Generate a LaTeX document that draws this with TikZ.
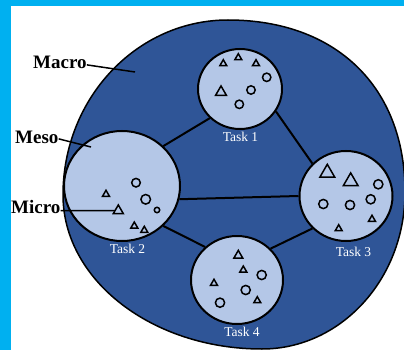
\documentclass[tikz,border=0pt]{standalone}
\usepackage{fontspec}
\setmainfont{Liberation Serif}
\usetikzlibrary{shapes.geometric}
\definecolor{cSky}{HTML}{00B0F0}
\definecolor{cDeep}{HTML}{2F5597}
\definecolor{cPale}{HTML}{B4C7E7}
\tikzset{
  task/.style={ellipse,draw=black,line width=2pt,fill=cPale,inner sep=0pt},
  tasklbl/.style={anchor=base,text=white,inner sep=0pt,
                  font=\fontsize{13.5}{15}\selectfont},
  levellbl/.style={anchor=base west,inner sep=0pt,
                  font=\fontsize{19}{22}\selectfont\bfseries},
  link/.style={line width=2pt},
  leader/.style={line width=1.5pt},
  tri/.style={regular polygon,regular polygon sides=3,draw=black,
              line width=1.5pt,inner sep=0pt,outer sep=0pt},
  blob/.style={circle,draw=black,line width=1.5pt,inner sep=0pt},
}

\begin{document}
\begin{tikzpicture}[x=1pt,y=-1pt]
  \clip (0,0) rectangle (404,350);
  \fill[white] (0,0) rectangle (404,350);
  \fill[cSky] (0,0) rectangle (404,6);
  \fill[cSky] (0,0) rectangle (11,350);

  % macro level
  \draw[fill=cDeep,line width=1.5pt] (228,20)
    .. controls (335,20) and (405,86) .. (405,192)
    .. controls (405,280) and (340,349) .. (262,349)
    .. controls (152,349) and (63,280) .. (63,195)
    .. controls (63,98) and (137,20) .. cycle;

  % meso level: the tasks
  \node[task,minimum width=84pt,minimum height=80pt] (t1) at (240,89) {};
  \node[task,minimum width=116pt,minimum height=110pt] (t2) at (122,186) {};
  \node[task,minimum width=93pt,minimum height=90pt] (t3) at (346,196) {};
  \node[task,minimum width=92pt,minimum height=88pt] (t4) at (237,280) {};

  \draw[link] (t1.224) -- (t2.44);
  \draw[link] (t1.-32) -- (t3.136);
  \draw[link] (t2.-13) -- (t3.180);
  \draw[link] (t2.-44) -- (t4.134);
  \draw[link] (t4.43) -- (t3.224);

  \node[tasklbl] (l1) at (240.5,142) {Task 1};
  \node[tasklbl] (l2) at (127.5,253.5) {Task 2};
  \node[tasklbl] (l3) at (353.5,256) {Task 3};
  \node[tasklbl] (l4) at (242,336.5) {Task 4};

  % micro level
  \foreach \x/\y/\d [count=\k] in {223.3/63.7/8, 238.3/57.7/8, 256/63.7/8,
      221/92.2/12.5, 106/194.3/8, 134.3/226/8, 144.3/230.3/8,
      327.3/172.8/17, 350.7/181.4/17, 372/219.3/8, 338.7/228.7/8,
      238.3/255.6/10.4, 243.3/270/8, 214/283.3/8, 257.3/300.7/8}
    \node[tri,minimum size=\d pt] (tri\k) at (\x,\y) {};
  \node[tri,minimum size=11.5pt] (microtri) at (118.3,210.7) {};

  \foreach \x/\y/\d [count=\k] in {266.7/77.3/8.4, 251/90/8.4, 239.3/104.3/8.4,
      136/182.7/8.6, 145.7/199.3/9.6, 157/210/5.4,
      378.3/184.3/9.2, 323.3/204/9.2, 350/205/9.2, 370.7/199.3/9.2,
      261.7/275/9.2, 245.7/290/9.2, 220/302.7/9.2}
    \node[blob,minimum size=\d pt] (dot\k) at (\x,\y) {};

  % level labels
  \node[levellbl] (macro) at (33,69) {Macro};
  \node[levellbl] (meso) at (15,143) {Meso};
  \node[levellbl] (micro) at (11,213) {Micro};
  \coordinate (macroPt) at (135,72);
  \coordinate (mesoPt) at (91,147);
  \draw[leader] ([yshift=-2pt]macro.east) -- (macroPt);
  \draw[leader] ([yshift=-2pt]meso.east) -- (mesoPt);
  \draw[leader] ([yshift=-4pt]micro.east) -- (microtri.west);
\end{tikzpicture}
\end{document}
